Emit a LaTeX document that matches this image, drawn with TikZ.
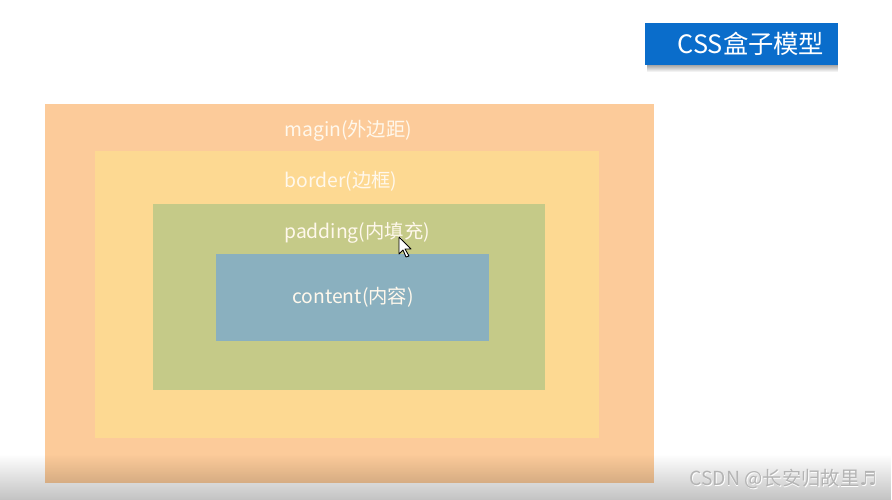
\documentclass[tikz,border=0pt]{standalone}
\usepackage{fontspec}
\usepackage{xcolor}
\usepackage{tikz}
\usetikzlibrary{fadings}
\newfontfamily\cjk{Noto Sans CJK SC}
\newfontfamily\symfont{DejaVu Sans}
\definecolor{BMargin}{HTML}{FCCB9A}
\definecolor{BBorder}{HTML}{FDD992}
\definecolor{BPadding}{HTML}{C5CA88}
\definecolor{BContent}{HTML}{8AB0BF}
\definecolor{BTitle}{HTML}{0A6DCB}
\definecolor{BLabel}{HTML}{FFF8EC}
\definecolor{BMark}{HTML}{B4B4B4}
\tikzset{
  boxlabel/.style={text=BLabel,font=\cjk\fontsize{11pt}{13pt}\selectfont,inner sep=0pt,anchor=west},
  marklabel/.style={font=\cjk\fontsize{11pt}{13pt}\selectfont,inner sep=0pt,anchor=east},
}

\begin{document}
\begin{tikzpicture}[x=0.02cm,y=0.02cm]
\path[use as bounding box] (0,0) rectangle (892,500);
\fill[white] (0,0) rectangle (892,500);
% nested boxes
\fill[BMargin] (45,17) rectangle (654,396);
\fill[BBorder] (95,62) rectangle (599,349);
\fill[BPadding] (153,110) rectangle (545,296);
\fill[BContent] (216,159) rectangle (489,246);
\node[boxlabel] (magin) at (284,369) {magin(外边距)};
\node[boxlabel] (border) at (284,319) {border(边框)};
\node[boxlabel] (padding) at (284,267) {padding(内填充)};
\node[boxlabel] (content) at (292,203) {content(内容)};
% title
\fill[black,opacity=0.35,path fading=south] (647,428) rectangle (838,435);
\fill[BTitle] (645,435) rectangle (838,477);
\node[text=white,font=\cjk\fontsize{14.4pt}{16pt}\selectfont,inner sep=0pt] (title) at (751,456) {CSS盒子模型};
% cursor
\draw[black,fill=white,line width=0.5pt,line join=round]
  (399,263) -- (399,246) -- (403,250) -- (406,243) -- (409,244) -- (405,251) -- (411,251) -- cycle;
% player shade
\fill[black,opacity=0.24,path fading=north] (0,0) rectangle (892,46);
% watermark
\node[marklabel,text=white] at (877.7,20.3) {CSDN @长安归故里{\symfont ♬}};
\node[marklabel,text=BMark] (mark) at (877,21) {CSDN @长安归故里{\symfont ♬}};
\end{tikzpicture}
\end{document}
